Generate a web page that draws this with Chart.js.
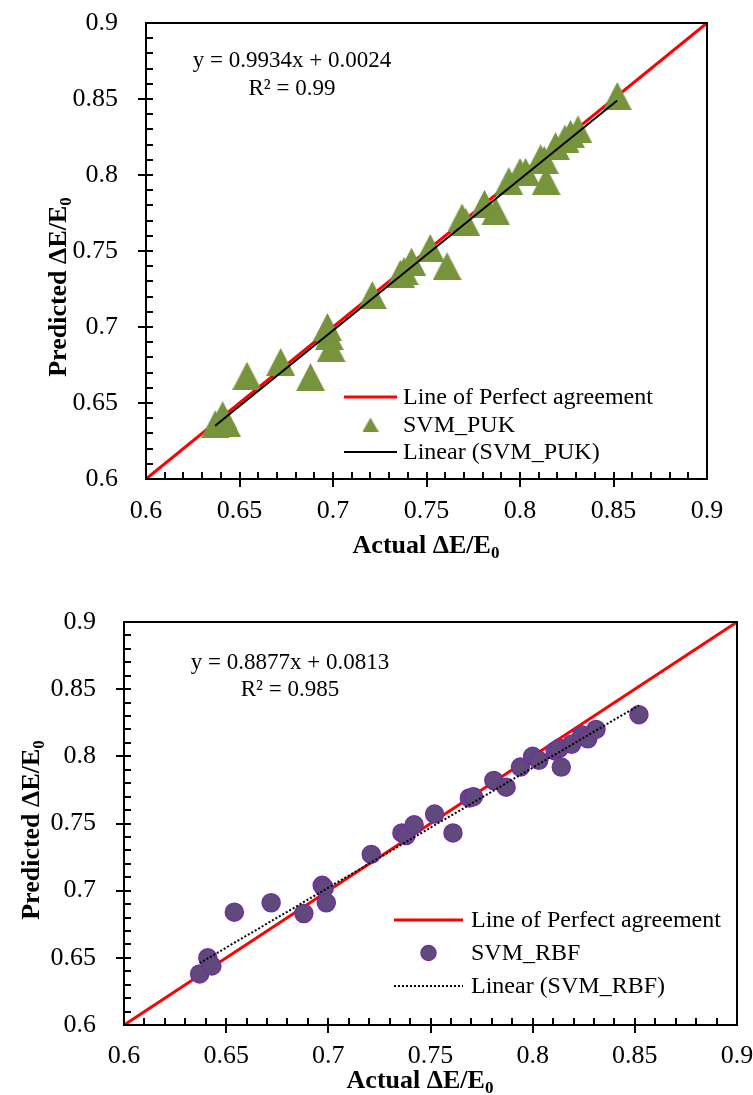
<!DOCTYPE html>
<html>
<head>
<meta charset="utf-8">
<script src="https://cdn.jsdelivr.net/npm/chart.js@4"></script>
<style>
  body { margin: 0; background: #fff; }
  .box { position: absolute; left: 0; width: 753px; }
</style>
</head>
<body>
<div class="box" style="top:0"><canvas id="chartPuk" width="753" height="575"></canvas></div>
<div class="box" style="top:595px"><canvas id="chartRbf" width="753" height="500"></canvas></div>
<script>
// values
const actual  = [0.637, 0.641, 0.643, 0.654, 0.672, 0.688, 0.697, 0.698, 0.699, 0.721, 0.736, 0.738, 0.742, 0.752, 0.761,
                 0.769, 0.771, 0.781, 0.787, 0.794, 0.800, 0.803, 0.811, 0.813, 0.814, 0.819, 0.824, 0.827, 0.831, 0.852];
const predPuk = [0.636, 0.642, 0.637, 0.668, 0.677, 0.667, 0.700, 0.694, 0.686, 0.721, 0.735, 0.737, 0.743, 0.752, 0.740,
                 0.772, 0.769, 0.781, 0.776, 0.796, 0.802, 0.802, 0.811, 0.810, 0.796, 0.819, 0.824, 0.827, 0.830, 0.852];
const predRbf = [0.638, 0.650, 0.644, 0.684, 0.691, 0.683, 0.704, 0.702, 0.691, 0.727, 0.743, 0.741, 0.749, 0.757, 0.743,
                 0.769, 0.770, 0.782, 0.777, 0.792, 0.800, 0.797, 0.804, 0.806, 0.792, 0.809, 0.816, 0.813, 0.820, 0.831];

const perfectX = [0.6, 0.9];
const perfectY = [0.6, 0.9];
const trendPukX = [0.637, 0.852];
const trendPukY = [0.635, 0.849];
const trendRbfX = [0.637, 0.852];
const trendRbfY = [0.646, 0.838];

const axisMin = 0.6, axisMax = 0.9, majorStep = 0.05, minorStep = 0.01;
const tickLabels = ['0.6', '0.65', '0.7', '0.75', '0.8', '0.85', '0.9'];

const FONT = '"Liberation Serif", "Times New Roman", serif';

const toPoints = (xs, ys) => xs.map((v, i) => ({x: v, y: ys[i]}));

// excel-like triangle marker
function triangleMarker(w, h, color) {
    const c = document.createElement('canvas');
    c.width = w; c.height = h;
    const g = c.getContext('2d');
    g.fillStyle = color;
    g.beginPath();
    g.moveTo(w / 2, 0);
    g.lineTo(w, h);
    g.lineTo(0, h);
    g.closePath();
    g.fill();
    return c;
}

function drawSub(ctx, main, sub, x, y, size) {
    const big = 'bold ' + size + 'px ' + FONT;
    const small = 'bold ' + Math.round(size * 0.65) + 'px ' + FONT;
    ctx.font = big;
    const w1 = ctx.measureText(main).width;
    ctx.font = small;
    const w2 = ctx.measureText(sub).width;
    const start = x - (w1 + w2) / 2;
    ctx.textAlign = 'left';
    ctx.textBaseline = 'alphabetic';
    ctx.font = big;
    ctx.fillText(main, start, y);
    ctx.font = small;
    ctx.fillText(sub, start + w1, y + size * 0.2);
}

const decor = {
    id: 'decor',
    afterDraw(chart, args, o) {
        const {ctx, chartArea: a} = chart;
        const sx = chart.scales.x, sy = chart.scales.y;
        ctx.save();

        // frame + inside/outside ticks
        ctx.strokeStyle = '#000000';
        ctx.lineWidth = 2;
        ctx.strokeRect(a.left, a.top, a.right - a.left, a.bottom - a.top);
        const n = Math.round((axisMax - axisMin) / minorStep);
        const every = Math.round(majorStep / minorStep);
        ctx.beginPath();
        for (let i = 1; i < n; i++) {
            const v = axisMin + i * minorStep;
            const major = i % every === 0;
            const px = Math.round(sx.getPixelForValue(v));
            const py = Math.round(sy.getPixelForValue(v));
            ctx.moveTo(px, a.bottom + (major ? 8 : 0));
            ctx.lineTo(px, a.bottom - 7);
            ctx.moveTo(a.left - (major ? 8 : 0), py);
            ctx.lineTo(a.left + 7, py);
        }
        ctx.stroke();

        ctx.fillStyle = '#000';
        // axis titles
        drawSub(ctx, 'Actual \u0394E/E', '0', o.xTitle[0], o.xTitle[1], 26);
        ctx.save();
        ctx.translate(o.yTitle[0], o.yTitle[1]);
        ctx.rotate(-Math.PI / 2);
        drawSub(ctx, 'Predicted \u0394E/E', '0', 0, 9, 26);
        ctx.restore();

        // regression text
        ctx.font = '23px ' + FONT;
        ctx.textAlign = 'center';
        ctx.textBaseline = 'middle';
        ctx.fillText(o.equation[0], o.eqPos[0], o.eqPos[1]);
        ctx.fillText(o.equation[1], o.eqPos[0], o.eqPos[1] + o.eqGap);

        // legend
        const L = o.legend;
        ctx.font = '24px ' + FONT;
        ctx.textAlign = 'left';
        chart.data.datasets.forEach((d, i) => {
            const yy = L.y + i * L.gap;
            const cx = L.x + L.len / 2;
            if (d.showLine) {
                ctx.save();
                ctx.strokeStyle = d.borderColor;
                ctx.lineWidth = d.borderWidth;
                ctx.setLineDash(d.borderDash || []);
                ctx.beginPath();
                ctx.moveTo(L.x, yy);
                ctx.lineTo(L.x + L.len, yy);
                ctx.stroke();
                ctx.restore();
            } else if (L.marker) {
                ctx.drawImage(L.marker, cx - L.marker.width / 2, yy - L.marker.height / 2);
            } else {
                ctx.save();
                ctx.fillStyle = d.backgroundColor;
                ctx.strokeStyle = d.borderColor;
                ctx.lineWidth = d.borderWidth;
                ctx.beginPath();
                ctx.arc(cx, yy, L.radius, 0, Math.PI * 2);
                ctx.fill();
                ctx.stroke();
                ctx.restore();
            }
            ctx.fillStyle = '#000';
            ctx.textBaseline = 'middle';
            ctx.fillText(d.label, L.x + L.len + L.textGap, yy + 1);
        });
        ctx.restore();
    }
};

function makeChart(id, cfg) {
    return new Chart(document.getElementById(id), {
        type: 'scatter',
        data: {
            datasets: [
                {
                    label: 'Line of Perfect agreement',
                    data: toPoints(perfectX, perfectY),
                    showLine: true,
                    borderColor: '#FF0000',
                    borderWidth: 3,
                    pointRadius: 0,
                    order: 2
                },
                cfg.series,
                {
                    label: cfg.trendLabel,
                    data: cfg.trend,
                    showLine: true,
                    borderColor: '#000000',
                    borderWidth: cfg.trendWidth,
                    borderDash: cfg.trendDash,
                    pointRadius: 0,
                    order: 0
                }
            ]
        },
        options: {
            responsive: false,
            animation: false,
            devicePixelRatio: 1,
            layout: {padding: cfg.padding},
            plugins: {
                legend: {display: false},
                tooltip: {enabled: false},
                decor: cfg.decor
            },
            scales: {
                x: {
                    type: 'linear',
                    min: axisMin,
                    max: axisMax,
                    afterFit: (s) => {
                        s.height = cfg.xHeight;
                        s.paddingLeft = 0;
                        s.paddingRight = 0;
                    },
                    grid: {display: false},
                    border: {display: false},
                    ticks: {
                        stepSize: majorStep,
                        color: '#000',
                        padding: cfg.xPad,
                        maxRotation: 0,
                        font: {family: FONT, size: 26},
                        callback: (v, i) => tickLabels[i]
                    }
                },
                y: {
                    type: 'linear',
                    min: axisMin,
                    max: axisMax,
                    afterFit: (s) => {
                        s.width = cfg.yWidth;
                        s.paddingTop = 0;
                        s.paddingBottom = 0;
                    },
                    grid: {display: false},
                    border: {display: false},
                    ticks: {
                        stepSize: majorStep,
                        color: '#000',
                        padding: cfg.yPad,
                        font: {family: FONT, size: 26},
                        callback: (v, i) => tickLabels[i]
                    }
                }
            }
        },
        plugins: [decor]
    });
}

makeChart('chartPuk', {
    series: {
        label: 'SVM_PUK',
        data: toPoints(actual, predPuk),
        pointStyle: triangleMarker(29, 28, '#77933C'),
        backgroundColor: '#77933C',
        borderColor: '#77933C',
        borderWidth: 0,
        order: 1
    },
    trendLabel: 'Linear (SVM_PUK)',
    trend: toPoints(trendPukX, trendPukY),
    trendWidth: 2,
    trendDash: [],
    padding: {left: 0, top: 23, right: 46, bottom: 0},
    yWidth: 146,
    xHeight: 96,
    xPad: 9,
    yPad: 20,
    decor: {
        xTitle: [426, 553],
        yTitle: [57, 287],
        equation: ['y = 0.9934x + 0.0024', 'R\u00B2 = 0.99'],
        eqPos: [292, 61],
        eqGap: 28,
        legend: {x: 344, y: 397, gap: 27.5, len: 53, textGap: 6,
                 marker: triangleMarker(16, 14, '#77933C')}
    }
});

makeChart('chartRbf', {
    series: {
        label: 'SVM_RBF',
        data: toPoints(actual, predRbf),
        pointStyle: 'circle',
        pointRadius: 9,
        backgroundColor: '#604A7B',
        borderColor: '#7030A0',
        borderWidth: 1.5,
        order: 1
    },
    trendLabel: 'Linear (SVM_RBF)',
    trend: toPoints(trendRbfX, trendRbfY),
    trendWidth: 2,
    trendDash: [2, 2],
    padding: {left: 0, top: 27, right: 16, bottom: 0},
    yWidth: 124,
    xHeight: 70,
    xPad: 8,
    yPad: 20,
    decor: {
        xTitle: [420, 493],
        yTitle: [30, 235],
        equation: ['y = 0.8877x + 0.0813', 'R\u00B2 = 0.985'],
        eqPos: [290, 68],
        eqGap: 27,
        legend: {x: 394, y: 325, gap: 33, len: 69, textGap: 8, radius: 7.5}
    }
});
</script>
</body>
</html>
